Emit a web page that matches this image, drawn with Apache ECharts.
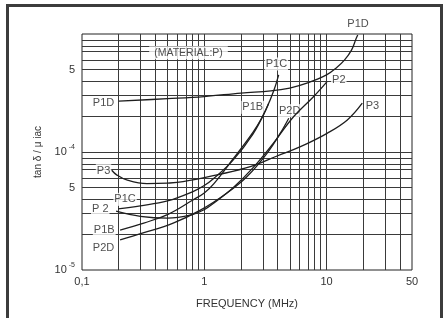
<!DOCTYPE html>
<html>
<head>
<meta charset="utf-8">
<script src="https://cdn.jsdelivr.net/npm/echarts@6/dist/echarts.min.js"></script>
<style>
  html, body { margin: 0; padding: 0; background: #fff; overflow: hidden; }
  #frame { position: absolute; left: 6px; top: 4px; width: 431px; height: 340px; border: 3px solid #3c3c3c; }
  #chart { position: absolute; left: 0; top: 0; width: 445px; height: 318px; }
</style>
</head>
<body>
<div id="frame"></div>
<div id="chart"></div>
<script>
// curves: frequency (MHz) and tan d / ui ac
var p1dFreq = [0.2, 0.5, 1, 2, 3.5, 5, 7, 10, 12, 14, 16, 17.5, 18];
var p1dTan = [2.7e-4, 2.83e-4, 2.95e-4, 3.16e-4, 3.29e-4, 3.48e-4, 3.85e-4, 4.5e-4, 5.15e-4, 6.0e-4, 7.3e-4, 9.2e-4, 9.8e-4];

var p1cFreq = [0.197, 0.3, 0.5, 0.8, 1.0, 1.2, 1.7, 2.5, 3.2, 3.7, 4.06];
var p1cTan = [3.3e-5, 3.5e-5, 3.85e-5, 4.6e-5, 5.2e-5, 6.0e-5, 8.4e-5, 1.42e-4, 2.3e-4, 3.3e-4, 4.5e-4];

var p1bFreq = [0.205, 0.32, 0.5, 0.8, 1.0, 1.2, 1.7, 2.5, 3.0, 3.35];
var p1bTan = [2.18e-5, 2.5e-5, 2.95e-5, 3.9e-5, 4.5e-5, 5.4e-5, 8.6e-5, 1.47e-4, 2.0e-4, 2.55e-4];

var p2Freq = [0.19, 0.3, 0.5, 0.8, 1.0, 1.2, 1.73, 2.52, 3.68, 5.37, 7.82, 10.1];
var p2Tan = [3.15e-5, 2.85e-5, 2.75e-5, 2.95e-5, 3.25e-5, 3.7e-5, 5.0e-5, 7.4e-5, 1.19e-4, 1.99e-4, 2.94e-4, 3.95e-4];

var p2dFreq = [0.205, 0.316, 0.557, 0.93, 1.535, 2.24, 3.27, 4.2, 4.91];
var p2dTan = [1.8e-5, 2.06e-5, 2.5e-5, 3.22e-5, 4.5e-5, 6.2e-5, 9.8e-5, 1.45e-4, 1.93e-4];

var p3Freq = [0.175, 0.192, 0.232, 0.34, 0.5, 0.67, 1.27, 2.38, 3.94, 6.12, 10.1, 14.8, 19.6];
var p3Tan = [7.0e-5, 6.4e-5, 5.8e-5, 5.4e-5, 5.45e-5, 5.6e-5, 6.4e-5, 7.5e-5, 9.25e-5, 1.11e-4, 1.44e-4, 1.87e-4, 2.59e-4];

// text labels on the plot (name, frequency, tan)
var labelNames = ["P1D", "P1D", "P1C", "P2", "P1B", "P2D", "P3", "P3", "P1C", "P 2", "P1B", "P2D"];
var labelFreq = [0.15, 18.1, 3.89, 12.6, 2.49, 5.0, 23.7, 0.15, 0.225, 0.141, 0.152, 0.15];
var labelTan = [2.59e-4, 1.22e-3, 5.57e-4, 4.07e-4, 2.39e-4, 2.24e-4, 2.45e-4, 6.95e-5, 3.97e-5, 3.29e-5, 2.18e-5, 1.53e-5];
var materialText = "(MATERIAL:P)";
var materialAt = [0.743, 6.95e-4];

// axes
var xTicks = [0.1, 1, 10, 50];
var xTickText = ["0,1", "1", "10", "50"];
var yTicks = [1e-5, 5e-5, 1e-4, 5e-4];
var yTickText = ["10^-5", "5", "10^-4", "5"];
var xGrid = [0.2, 0.3, 0.4, 0.5, 0.6, 0.7, 0.8, 0.9, 1, 2, 3, 4, 5, 6, 7, 8, 9, 10, 20, 30, 40];
var yGrid = [2e-5, 3e-5, 4e-5, 5e-5, 6e-5, 7e-5, 8e-5, 9e-5, 1e-4, 2e-4, 3e-4, 4e-4, 5e-4, 6e-4, 7e-4, 8e-4, 9e-4];

function lg(v) { return Math.log10(v); }
function pairs(f, t) { return f.map(function (x, i) { return [lg(x), lg(t[i])]; }); }
function nearest(list, v) {
  var best = 0;
  list.forEach(function (t, i) { if (Math.abs(lg(t) - v) < Math.abs(lg(list[best]) - v)) best = i; });
  return best;
}

var chart = echarts.init(document.getElementById("chart"));

function curve(name, f, t) {
  return {
    name: name, type: "line", data: pairs(f, t), smooth: 0.4,
    showSymbol: false, z: 4, silent: true,
    lineStyle: { color: "#1e1e1e", width: 1.3 }
  };
}

var labelData = labelNames.map(function (n, i) {
  return { name: n, value: [lg(labelFreq[i]), lg(labelTan[i])] };
});

var gridLines = xGrid.map(function (v) { return { xAxis: lg(v) }; })
  .concat(yGrid.map(function (v) { return { yAxis: lg(v) }; }));

var option = {
  animation: false,
  grid: { left: 82, right: 33, top: 34, bottom: 48, show: true, borderColor: "#222", borderWidth: 1 },
  xAxis: {
    type: "value", min: -1, max: lg(50),
    axisLine: { show: false }, axisTick: { show: false }, splitLine: { show: false },
    axisLabel: {
      customValues: xTicks.map(lg), margin: 6, fontSize: 11, color: "#333",
      fontFamily: "Liberation Sans",
      formatter: function (v) { return xTickText[nearest(xTicks, v)]; }
    },
    name: "FREQUENCY (MHz)", nameLocation: "middle", nameGap: 28,
    nameTextStyle: { fontSize: 11, color: "#333", fontFamily: "Liberation Sans" }
  },
  yAxis: {
    type: "value", min: -5, max: -3,
    axisLine: { show: false }, axisTick: { show: false }, splitLine: { show: false },
    axisLabel: {
      customValues: yTicks.map(lg), margin: 7, color: "#333",
      fontFamily: "Liberation Sans",
      formatter: function (v) {
        var s = yTickText[nearest(yTicks, v)];
        if (s.indexOf("^") < 0) return "{b|" + s + "}";
        var p = s.split("^");
        return "{b|" + p[0] + "}{s|" + p[1] + "}";
      },
      rich: {
        b: { fontSize: 11, lineHeight: 16, color: "#333", fontFamily: "Liberation Sans" },
        s: { fontSize: 7, lineHeight: 8, verticalAlign: "top", padding: [0, 0, 0, 2], color: "#333", fontFamily: "Liberation Sans" }
      }
    },
    name: "tan δ / μ iac", nameLocation: "middle", nameGap: 31, nameRotate: 90,
    nameTextStyle: { fontSize: 10, color: "#333", fontFamily: "Liberation Sans" }
  },
  series: [
    {
      type: "line", data: [], z: 1, silent: true,
      markLine: {
        z: 1, silent: true, symbol: ["none", "none"], label: { show: false },
        lineStyle: { color: "#3a3a3a", width: 1, type: "solid" },
        data: gridLines
      }
    },
    {
      type: "scatter", z: 3, silent: true, clip: false, symbolSize: 0,
      data: labelData.concat([{ name: materialText, value: [lg(materialAt[0]), lg(materialAt[1])],
        label: { fontSize: 10.5, padding: [1, 5] } }]),
      label: {
        show: true, position: "inside", formatter: "{b}", color: "#222",
        fontSize: 11, fontFamily: "Liberation Sans",
        backgroundColor: "#fff", padding: [1, 1]
      }
    },
    curve("P1D", p1dFreq, p1dTan),
    curve("P1C", p1cFreq, p1cTan),
    curve("P1B", p1bFreq, p1bTan),
    curve("P2", p2Freq, p2Tan),
    curve("P2D", p2dFreq, p2dTan),
    curve("P3", p3Freq, p3Tan)
  ]
};

option && chart.setOption(option);
</script>
</body>
</html>
